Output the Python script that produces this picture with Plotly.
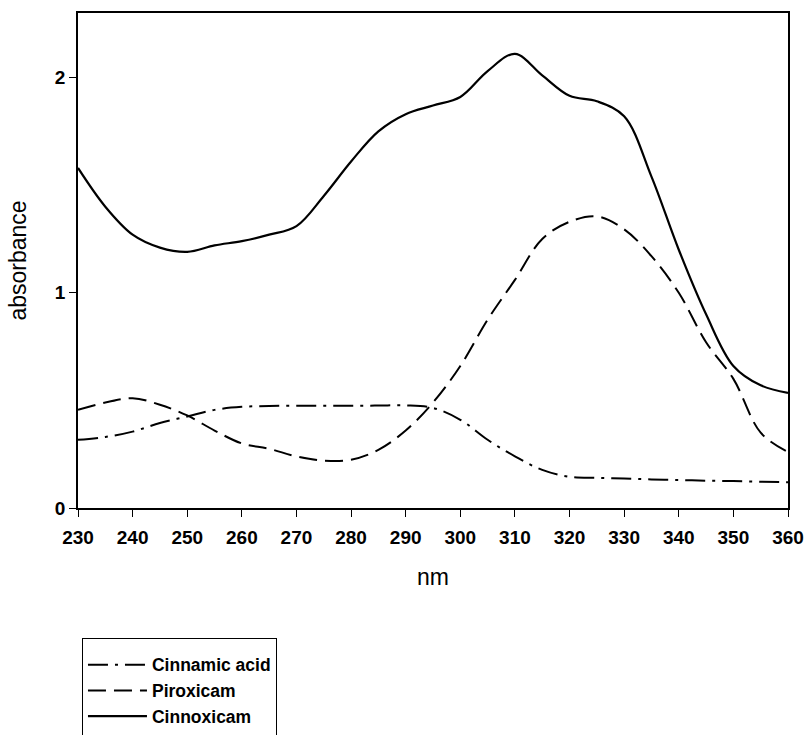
import plotly.graph_objects as go

wavelength = [230, 235, 240, 245, 250, 255, 260, 265, 270, 275, 280, 285, 290, 295, 300,
              305, 310, 315, 320, 325, 330, 335, 340, 345, 350, 355, 360]

cinnamic_acid = [0.317, 0.33, 0.355, 0.395, 0.425, 0.456, 0.47, 0.474, 0.475, 0.475, 0.475, 0.476,
                 0.477, 0.465, 0.41, 0.317, 0.24, 0.177, 0.145, 0.14, 0.137, 0.133, 0.13, 0.127,
                 0.125, 0.122, 0.12]

piroxicam = [0.456, 0.49, 0.51, 0.48, 0.43, 0.36, 0.30, 0.275, 0.24, 0.22, 0.224, 0.27,
             0.36, 0.49, 0.66, 0.875, 1.06, 1.25, 1.33, 1.355, 1.295, 1.17, 1.0, 0.77,
             0.60, 0.35, 0.26]

cinnoxicam = [1.58, 1.40, 1.27, 1.21, 1.19, 1.22, 1.24, 1.27, 1.31, 1.45, 1.61, 1.75,
              1.83, 1.87, 1.91, 2.03, 2.11, 2.01, 1.915, 1.89, 1.82, 1.54, 1.20, 0.90,
              0.66, 0.57, 0.535]

series_names = ["Cinnamic acid", "Piroxicam", "Cinnoxicam"]
x_ticks = [230, 240, 250, 260, 270, 280, 290, 300, 310, 320, 330, 340, 350, 360]
y_ticks = [0, 1, 2]

FONT = "Arial, Liberation Sans, sans-serif"

fig = go.Figure()
fig.add_trace(go.Scatter(x=wavelength, y=cinnamic_acid, name=series_names[0], mode="lines",
                         line=dict(color="black", width=2, dash="20px,7px,3px,7px", shape="spline")))
fig.add_trace(go.Scatter(x=wavelength, y=piroxicam, name=series_names[1], mode="lines",
                         line=dict(color="black", width=2, dash="18px,8px", shape="spline")))
fig.add_trace(go.Scatter(x=wavelength, y=cinnoxicam, name=series_names[2], mode="lines",
                         line=dict(color="black", width=2.2, shape="spline")))

fig.update_layout(
    width=806, height=735,
    margin=dict(l=78, r=18, t=13, b=227, autoexpand=False),
    paper_bgcolor="white", plot_bgcolor="white",
    font=dict(family=FONT, size=17, color="black"),
    showlegend=True,
    legend=dict(x=0.0056, y=-0.2626, xanchor="left", yanchor="top",
                bordercolor="black", borderwidth=1, bgcolor="white",
                font=dict(family=FONT, size=17.5, weight="bold"),
                title=dict(text=" ", font=dict(size=6)),
                traceorder="normal", tracegroupgap=0, itemwidth=59),
)
fig.update_xaxes(range=[230, 360], tickvals=x_ticks, ticks="outside", ticklen=7,
                 tickcolor="black", showline=True, linecolor="black", linewidth=1.5,
                 mirror=True, showgrid=False, zeroline=False, automargin=False,
                 ticklabelstandoff=4,
                 title=dict(text="nm", standoff=22, font=dict(family=FONT, size=23)),
                 tickfont=dict(family=FONT, size=19, weight="bold"))
fig.update_yaxes(range=[0, 2.3], tickvals=y_ticks, ticks="outside", ticklen=7,
                 tickcolor="black", showline=True, linecolor="black", linewidth=1.5,
                 mirror=True, showgrid=False, zeroline=False, automargin=False,
                 title=dict(text="absorbance", standoff=22, font=dict(family=FONT, size=23)),
                 tickfont=dict(family=FONT, size=19, weight="bold"))

fig.write_html("out.html",
               config={"displayModeBar": False},
               post_script="document.body.style.margin='0';"
                           "document.body.style.overflow='hidden';"
                           "document.documentElement.style.overflow='hidden';")
